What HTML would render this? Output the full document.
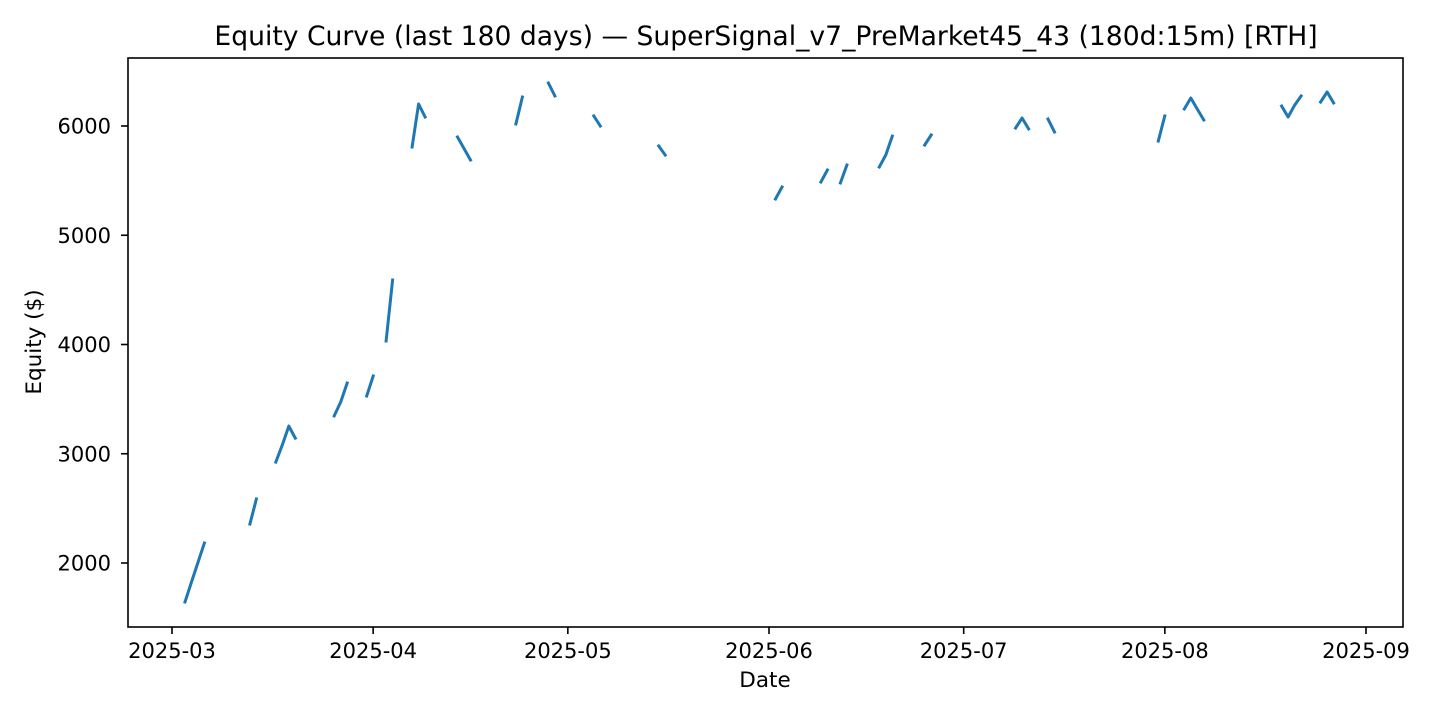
<!DOCTYPE html>
<html><head><meta charset="utf-8"><style>
html,body{margin:0;padding:0;background:#fff;}
svg{display:block;font-family:"DejaVu Sans","Liberation Sans",sans-serif;}
</style></head><body>
<svg id="chart" width="1440" height="720" viewBox="0 0 1440 720">
<rect width="1440" height="720" fill="#fff"/>
<text x="766" y="45" text-anchor="middle" font-size="26.6" fill="#000">Equity Curve (last 180 days) — SuperSignal_v7_PreMarket45_43 (180d:15m) [RTH]</text>
<g id="xticks"></g>
<g id="yticks"></g>
<g id="series"></g>
<rect x="128" y="58" width="1275" height="569" fill="none" stroke="#000" stroke-width="1.6"/>
<text x="765" y="687" text-anchor="middle" font-size="21.5">Date</text>
<text x="0" y="0" transform="translate(41,342) rotate(-90)" text-anchor="middle" font-size="21.5">Equity ($)</text>
</svg>
<script>
const dates = ["2025-03-03","2025-03-04","2025-03-06",null,
"2025-03-13","2025-03-14",null,
"2025-03-17","2025-03-18","2025-03-19","2025-03-20",null,
"2025-03-26","2025-03-27","2025-03-28",null,
"2025-03-31","2025-04-01",null,
"2025-04-03","2025-04-04",null,
"2025-04-07","2025-04-08","2025-04-09",null,
"2025-04-14","2025-04-15","2025-04-16",null,
"2025-04-23","2025-04-24",null,
"2025-04-28","2025-04-29",null,
"2025-05-05","2025-05-06",null,
"2025-05-15","2025-05-16",null,
"2025-06-02","2025-06-03",null,
"2025-06-09","2025-06-10",null,
"2025-06-12","2025-06-13",null,
"2025-06-18","2025-06-19","2025-06-20",null,
"2025-06-25","2025-06-26",null,
"2025-07-09","2025-07-10","2025-07-11",null,
"2025-07-14","2025-07-15",null,
"2025-07-31","2025-08-01",null,
"2025-08-04","2025-08-05","2025-08-06","2025-08-07",null,
"2025-08-19","2025-08-20","2025-08-21","2025-08-22",null,
"2025-08-25","2025-08-26","2025-08-27"];
const equity = [1643,1826,2183,null,
2357,2586,null,
2924,3080,3253,3143,null,
3346,3474,3648,null,
3529,3712,null,
4032,4590,null,
5808,6201,6082,null,
5899,5794,5689,null,
6018,6265,null,
6394,6275,null,
6092,6000,null,
5817,5735,null,
5332,5442,null,
5487,5597,null,
5478,5643,null,
5625,5735,5908,null,
5826,5918,null,
5982,6073,5973,null,
6064,5945,null,
5863,6092,null,
6156,6256,6155,6055,null,
6183,6082,6190,6275,null,
6220,6311,6211];
const xTickLabels = ["2025-03","2025-04","2025-05","2025-06","2025-07","2025-08","2025-09"];
const yTickValues = [2000,3000,4000,5000,6000];

const NS="http://www.w3.org/2000/svg";
const t0=Date.UTC(2025,2,1), t1=Date.UTC(2025,8,1);
function xs(s){const p=s.split("-").map(Number);const t=Date.UTC(p[0],p[1]-1,p[2]||1);return 172+(t-t0)/(t1-t0)*(1366-172);}
function ys(v){return 563-(v-2000)*(563-126)/4000;}
function mk(tag,attrs,parent){const e=document.createElementNS(NS,tag);for(const k in attrs)e.setAttribute(k,attrs[k]);parent.appendChild(e);return e;}

const gx=document.getElementById("xticks");
xTickLabels.forEach(l=>{
  const x=xs(l);
  const tk=mk("line",{x1:x,x2:x,y1:627,y2:634,stroke:"#000","stroke-width":1.6},gx);
  
  
  const tx=mk("text",{x:x,y:658,"text-anchor":"middle","font-size":"21"},gx);
  tx.textContent=l;
  
  
});
const gy=document.getElementById("yticks");
yTickValues.forEach(v=>{
  const y=ys(v);
  const tk=mk("line",{x1:121,x2:128,y1:y,y2:y,stroke:"#000","stroke-width":1.6},gy);
  
  
  const tx=mk("text",{x:111,y:y+7.5,"text-anchor":"end","font-size":"21"},gy);
  tx.textContent=String(v);
  
  
});
const gs=document.getElementById("series");
let d="",pen=false;
for(let i=0;i<dates.length;i++){
  if(dates[i]===null||equity[i]===null){pen=false;continue;}
  d+=(pen?"L":"M")+xs(dates[i]).toFixed(1)+","+ys(equity[i]).toFixed(1);
  pen=true;
}
const path=mk("path",{d:d,fill:"none",stroke:"#1f77b4","stroke-width":3,"stroke-linejoin":"round","stroke-linecap":"square"},gs);


</script>
</body></html>
